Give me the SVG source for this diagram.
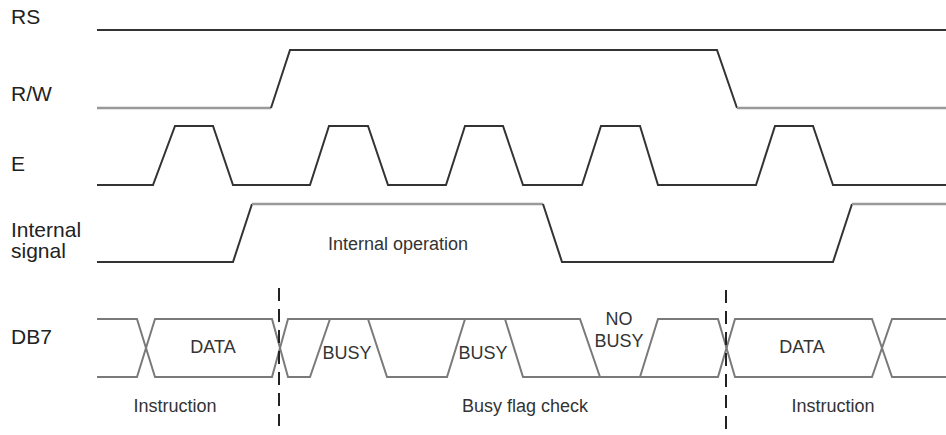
<svg xmlns="http://www.w3.org/2000/svg" width="946" height="435" viewBox="0 0 946 435">
<style>
.lbl{font-family:"Liberation Sans",Arial,sans-serif;font-size:21px;fill:#222}
.txt{font-family:"Liberation Sans",Arial,sans-serif;font-size:18px;fill:#333;text-anchor:middle}
.sig{fill:none;stroke:#333;stroke-width:2;stroke-linejoin:miter}
.lt{fill:none;stroke:#999;stroke-width:2.5}
.bus{fill:none;stroke:#7a7a7a;stroke-width:2}
.dash{fill:none;stroke:#222;stroke-width:2;stroke-dasharray:13 8}
</style>
<rect width="946" height="435" fill="#fff"/>
<g id="rs">
<text class="lbl" x="11" y="24">RS</text>
<path class="sig" d="M97,30 L946,30" stroke="#111"/>
</g>
<g id="rw">
<text class="lbl" x="11" y="101">R/W</text>
<path class="lt" d="M97,108 L271,108"/>
<path class="sig" d="M271,108 L290,50 L717,50 L737,108"/>
<path class="lt" d="M737,108 L946,108"/>
</g>
<g id="e">
<text class="lbl" x="11" y="171">E</text>
<path class="sig" d="M97,185 L153,185 L175,126 L213,126 L233,185 L310,185 L329,126 L368,126 L388,185 L446,185 L465,126 L503,126 L523,185 L582,185 L601,126 L640,126 L658,185 L756,185 L775,126 L813,126 L833,185 L946,185"/>
</g>
<g id="internal">
<text class="lbl" x="11" y="237">Internal</text>
<text class="lbl" x="11" y="258">signal</text>
<path class="sig" d="M97,262 L233,262 L252,204"/>
<path class="lt" d="M252,204 L543,204"/>
<path class="sig" d="M543,204 L562,262 L833,262 L852,204"/>
<path class="lt" d="M852,204 L946,204"/>
<text class="txt" x="398" y="250">Internal operation</text>
</g>
<g id="db7">
<text class="lbl" x="11" y="344">DB7</text>
<path class="bus" d="M97,319 L137,319 L155,377 L272,377 L288,319 L580,319 L600,377 L718,377 L735,319 L872,319 L892,377 L946,377"/>
<path class="bus" d="M97,377 L137,377 L155,319 L272,319 L288,377 L310,377 L330,319"/>
<path class="bus" d="M368,319 L387,377 L447,377 L465,319"/>
<path class="bus" d="M505,319 L523,377 L600,377"/>
<path class="bus" d="M640,377 L658,319 L718,319 L735,377 L872,377 L892,319 L946,319"/>
<text class="txt" x="213" y="353">DATA</text>
<text class="txt" x="347" y="359">BUSY</text>
<text class="txt" x="483" y="359">BUSY</text>
<text class="txt" x="619" y="325">NO</text>
<text class="txt" x="619" y="347">BUSY</text>
<text class="txt" x="802" y="353">DATA</text>
</g>
<g id="phases">
<text class="txt" x="175" y="412">Instruction</text>
<text class="txt" x="525" y="412">Busy flag check</text>
<text class="txt" x="833" y="412">Instruction</text>
</g>
<g id="connectors">
<path class="dash" d="M279,288 L279,426"/>
<path class="dash" d="M726,290 L726,433"/>
</g>
</svg>
